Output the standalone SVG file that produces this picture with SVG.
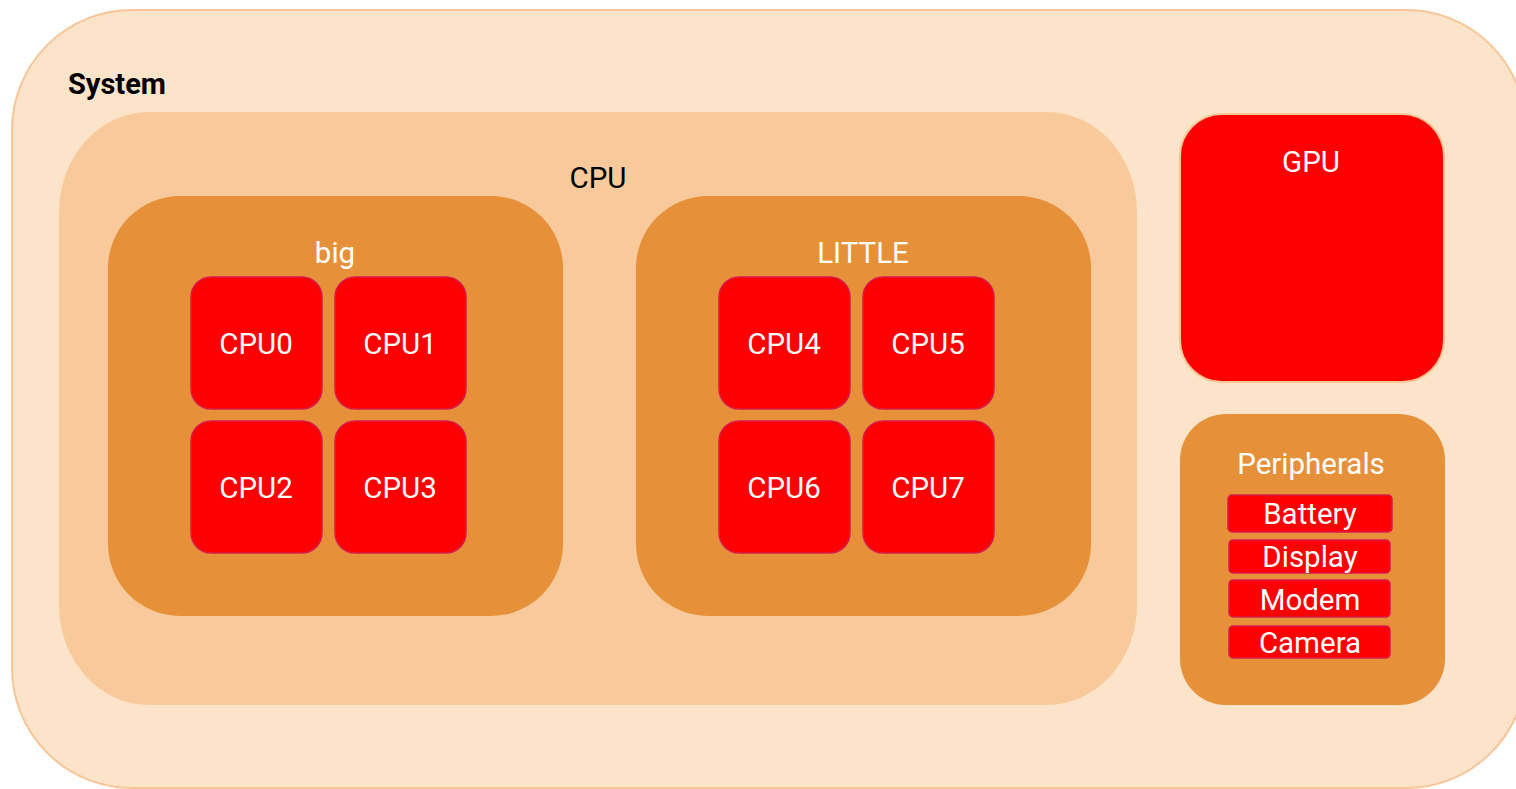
<svg xmlns="http://www.w3.org/2000/svg" width="1516" height="789" viewBox="0 0 1516 789">
  <style>
    text { font-family: Roboto, "Liberation Sans", sans-serif; }
    .sys { fill: #fce4cb; stroke: #f7c597; stroke-width: 2; }
    .cpu { fill: #f8ca9b; }
    .cluster { fill: #e6913a; }
    .core { fill: #ff0000; stroke: #d81b4a; stroke-width: 1.5; }
    .gpu { fill: #ff0000; stroke: #f7c597; stroke-width: 2; }
    .lbl { font-size: 29.5px; text-anchor: middle; fill: #ffffff; }
    .dark { fill: #000000; }
    .title { font-size: 29px; font-weight: bold; fill: #000000; }
    .dev { font-size: 29.5px; text-anchor: middle; fill: #ffffff; }
  </style>

  <g id="system">
    <rect class="sys" x="12" y="10" width="1514" height="778" rx="120" ry="120"/>
    <text class="title" x="68" y="94">System</text>
  </g>

  <g id="cpu">
    <rect class="cpu" x="59" y="112" width="1078" height="593" rx="90" ry="100"/>
    <text class="lbl dark" x="598" y="188">CPU</text>
  </g>

  <g id="big">
    <rect class="cluster" x="108" y="196" width="455" height="420" rx="72" ry="72"/>
    <text class="lbl" x="335" y="263">big</text>
  </g>
  <g id="cpu0">
    <rect class="core" x="191" y="277" width="131" height="132" rx="20"/>
    <text class="lbl" x="256" y="354">CPU0</text>
  </g>
  <g id="cpu1">
    <rect class="core" x="335" y="277" width="131" height="132" rx="20"/>
    <text class="lbl" x="400" y="354">CPU1</text>
  </g>
  <g id="cpu2">
    <rect class="core" x="191" y="421" width="131" height="132" rx="20"/>
    <text class="lbl" x="256" y="498">CPU2</text>
  </g>
  <g id="cpu3">
    <rect class="core" x="335" y="421" width="131" height="132" rx="20"/>
    <text class="lbl" x="400" y="498">CPU3</text>
  </g>

  <g id="little">
    <rect class="cluster" x="636" y="196" width="455" height="420" rx="72" ry="72"/>
    <text class="lbl" x="863" y="263">LITTLE</text>
  </g>
  <g id="cpu4">
    <rect class="core" x="719" y="277" width="131" height="132" rx="20"/>
    <text class="lbl" x="784" y="354">CPU4</text>
  </g>
  <g id="cpu5">
    <rect class="core" x="863" y="277" width="131" height="132" rx="20"/>
    <text class="lbl" x="928" y="354">CPU5</text>
  </g>
  <g id="cpu6">
    <rect class="core" x="719" y="421" width="131" height="132" rx="20"/>
    <text class="lbl" x="784" y="498">CPU6</text>
  </g>
  <g id="cpu7">
    <rect class="core" x="863" y="421" width="131" height="132" rx="20"/>
    <text class="lbl" x="928" y="498">CPU7</text>
  </g>

  <g id="gpu">
    <rect class="gpu" x="1180" y="114" width="264" height="268" rx="42"/>
    <text class="lbl" x="1311" y="172">GPU</text>
  </g>

  <g id="peripherals">
    <rect class="cluster" x="1180" y="414" width="265" height="291" rx="46"/>
    <text class="lbl" x="1311" y="474">Peripherals</text>
  </g>
  <g id="battery">
    <rect class="core" x="1228" y="495" width="164" height="37" rx="4"/>
    <text class="dev" x="1310" y="524">Battery</text>
  </g>
  <g id="display">
    <rect class="core" x="1229" y="540" width="161" height="33" rx="4"/>
    <text class="dev" x="1310" y="567">Display</text>
  </g>
  <g id="modem">
    <rect class="core" x="1229" y="580" width="161" height="37" rx="4"/>
    <text class="dev" x="1310" y="610">Modem</text>
  </g>
  <g id="camera">
    <rect class="core" x="1229" y="626" width="161" height="32" rx="4"/>
    <text class="dev" x="1310" y="653">Camera</text>
  </g>

  <g id="connectors"/>
</svg>
